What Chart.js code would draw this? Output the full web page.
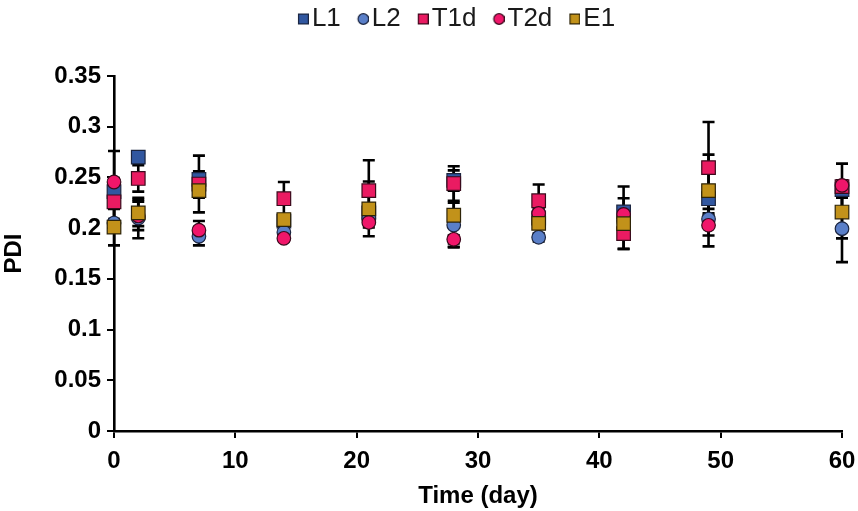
<!DOCTYPE html>
<html>
<head>
<meta charset="utf-8">
<script src="https://cdn.jsdelivr.net/npm/chart.js@4.4.1/dist/chart.umd.min.js"></script>
<style>
  html, body { margin: 0; padding: 0; background: #fff; }
  #wrap { width: 858px; height: 511px; }
</style>
</head>
<body>
<div id="wrap"><canvas id="c" width="858" height="511"></canvas></div>
<script>
// Sampling days
const days = [0, 2, 7, 14, 21, 28, 35, 42, 49, 60];

// Mean PDI per formulation
const L1  = [0.236, 0.270, 0.248, 0.207, 0.215, 0.247, 0.210, 0.216, 0.229, 0.238];
const L2  = [0.205, 0.210, 0.192, 0.196, 0.210, 0.203, 0.191, 0.207, 0.209, 0.1995];
const T1d = [0.226, 0.249, 0.2435, 0.229, 0.237, 0.244, 0.227, 0.1946, 0.2597, 0.241];
const T2d = [0.2455, 0.212, 0.198, 0.190, 0.2056, 0.189, 0.2146, 0.2136, 0.2028, 0.2422];
const E1  = [0.201, 0.215, 0.237, 0.2085, 0.219, 0.2127, 0.2047, 0.2045, 0.237, 0.2159];

// Standard deviations
const L1sd  = [0.040, 0.005, 0.008, 0.006, 0.008, 0.010, 0.008, 0.025, 0.010, 0.008];
const L2sd  = [0.004, 0.020, 0.009, 0.004, 0.005, 0.022, 0.004, 0.005, 0.027, 0.033];
const T1dSd = [0.005, 0.013, 0.028, 0.0165, 0.030, 0.017, 0.016, 0.015, 0.045, 0.0226];
const T2dSd = [0.004, 0.014, 0.009, 0.003, 0.005, 0.004, 0.005, 0.005, 0.010, 0.005];
const E1sd  = [0.018, 0.013, 0.007, 0.005, 0.027, 0.031, 0.004, 0.025, 0.0355, 0.026];

const seriesNames = ['L1', 'L2', 'T1d', 'T2d', 'E1'];
const xTicks = [0, 10, 20, 30, 40, 50, 60];
const yTicks = [0, 0.05, 0.1, 0.15, 0.2, 0.25, 0.3, 0.35];

const FONT = "'Liberation Sans', Arial, sans-serif";

function pts(vals) { return vals.map((v, i) => ({ x: days[i], y: v })); }

// Later series sit on top of earlier ones
function makeSeries(idx, vals, sd, color, border, style) {
  const r = style === 'rect' ? 9.6 : 6.8;
  return {
    label: seriesNames[idx],
    data: pts(vals),
    sd,
    order: seriesNames.length - idx,
    showLine: false,
    pointStyle: style,
    pointRadius: r,
    pointHoverRadius: r,
    backgroundColor: color,
    borderColor: border,
    pointBorderWidth: 1.2,
    clip: false
  };
}

// Legend marker, placed at the right of its canvas so it sits close to the text
function legendMarker(style, fill, stroke) {
  const c = document.createElement('canvas');
  c.width = 32; c.height = 12;
  const g = c.getContext('2d');
  g.fillStyle = fill; g.strokeStyle = stroke; g.lineWidth = 1.2;
  if (style === 'rect') {
    g.fillRect(21.5, 1, 10, 10); g.strokeRect(21.6, 1.1, 9.8, 9.8);
  } else {
    g.beginPath(); g.arc(26.5, 6, 5.3, 0, Math.PI * 2); g.fill(); g.stroke();
  }
  return c;
}

// Vertical error bars with caps, drawn under the markers
const errorBars = {
  id: 'errorBars',
  beforeDatasetsDraw(chart) {
    const { ctx, scales: { x, y } } = chart;
    ctx.save();
    ctx.strokeStyle = '#000';
    ctx.lineWidth = 2.6;
    chart.data.datasets.forEach(ds => {
      ds.data.forEach((p, i) => {
        const e = ds.sd[i];
        const px = x.getPixelForValue(p.x);
        const t = y.getPixelForValue(p.y + e);
        const b = y.getPixelForValue(p.y - e);
        ctx.beginPath();
        ctx.moveTo(px, t); ctx.lineTo(px, b);
        ctx.moveTo(px - 6, t); ctx.lineTo(px + 6, t);
        ctx.moveTo(px - 6, b); ctx.lineTo(px + 6, b);
        ctx.stroke();
      });
    });
    ctx.restore();
  }
};

// Fixed legend band height, legend row centred over the plot
const legendBand = {
  id: 'legendBand',
  afterInit(chart) {
    const lg = chart.legend;
    const fit = lg.fit;
    lg.fit = function () { fit.call(this); this.height = 76; };
  },
  afterLayout(chart) {
    chart.legend.left += 30;
    chart.legend.right += 30;
  }
};

const datasets = [
  makeSeries(0, L1,  L1sd,  '#3157A0', '#1b2540', 'rect'),
  makeSeries(1, L2,  L2sd,  '#5A7FC8', '#1b2540', 'circle'),
  makeSeries(2, T1d, T1dSd, '#EA1B62', '#3a0a1c', 'rect'),
  makeSeries(3, T2d, T2dSd, '#F0166A', '#3a0a1c', 'circle'),
  makeSeries(4, E1,  E1sd,  '#C2921A', '#2e2408', 'rect')
];

new Chart(document.getElementById('c'), {
  type: 'scatter',
  data: { datasets },
  plugins: [errorBars, legendBand],
  options: {
    responsive: false,
    animation: false,
    devicePixelRatio: 1,
    layout: { padding: { left: 0, right: 16, top: 0, bottom: 0 } },
    plugins: {
      tooltip: { enabled: false },
      legend: {
        position: 'top',
        labels: {
          usePointStyle: true,
          boxWidth: 12,
          boxHeight: 12,
          padding: 6,
          color: '#1a1a1a',
          font: { family: FONT, size: 26 },
          sort: (a, b) => a.datasetIndex - b.datasetIndex,
          generateLabels(chart) {
            return Chart.defaults.plugins.legend.labels.generateLabels(chart).map(l => {
              const ds = chart.data.datasets[l.datasetIndex];
              l.pointStyle = legendMarker(ds.pointStyle, ds.backgroundColor, ds.borderColor);
              return l;
            });
          }
        }
      }
    },
    scales: {
      x: {
        type: 'linear',
        min: 0, max: 60,
        afterBuildTicks(s) { s.ticks = xTicks.map(v => ({ value: v })); },
        afterFit(s) { s.height = 80; s.paddingLeft = 0; s.paddingRight = 0; },
        ticks: { color: '#000', font: { family: FONT, size: 24, weight: 'bold' }, padding: 9, maxRotation: 0 },
        grid: { drawOnChartArea: false, drawTicks: true, tickLength: 7, color: '#000', lineWidth: 2 },
        border: { color: '#000', width: 2.6 },
        title: { display: true, text: 'Time (day)', color: '#000', font: { family: FONT, size: 24, weight: 'bold' }, padding: { top: 0, bottom: 0 } }
      },
      y: {
        min: 0, max: 0.35,
        afterBuildTicks(s) { s.ticks = yTicks.map(v => ({ value: v })); },
        afterFit(s) { s.width = 114; s.paddingTop = 0; s.paddingBottom = 0; },
        ticks: {
          color: '#000', font: { family: FONT, size: 24, weight: 'bold' }, padding: 6,
          callback: v => String(+v.toFixed(2))
        },
        grid: { drawOnChartArea: false, drawTicks: true, tickLength: 7, color: '#000', lineWidth: 2 },
        border: { color: '#000', width: 2.6 },
        title: { display: true, text: 'PDI', color: '#000', font: { family: FONT, size: 24, weight: 'bold' }, padding: { top: 0, bottom: 0 } }
      }
    }
  }
});
</script>
</body>
</html>
